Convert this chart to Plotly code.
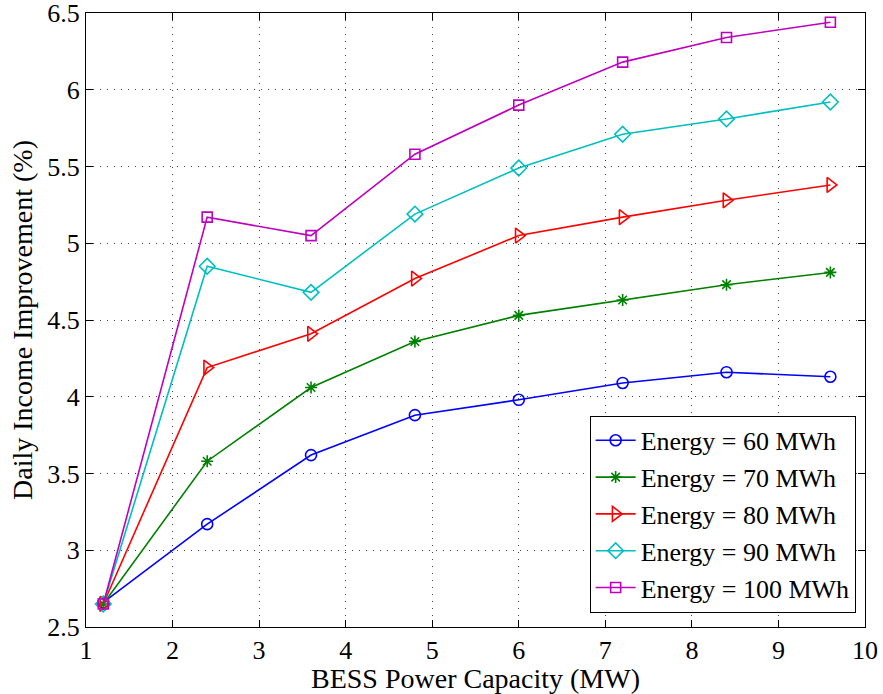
import plotly.graph_objects as go

# BESS power capacity (MW)
power_mw = [1.2, 2.4, 3.6, 4.8, 6.0, 7.2, 8.4, 9.6]

# Daily income improvement (%) for each energy capacity
energy_60 = [2.66, 3.17, 3.62, 3.88, 3.98, 4.09, 4.16, 4.13]
energy_70 = [2.65, 3.58, 4.06, 4.36, 4.53, 4.63, 4.73, 4.81]
energy_80 = [2.65, 4.19, 4.41, 4.77, 5.05, 5.17, 5.28, 5.38]
energy_90 = [2.65, 4.85, 4.68, 5.19, 5.49, 5.71, 5.81, 5.92]
energy_100 = [2.65, 5.17, 5.05, 5.58, 5.90, 6.18, 6.34, 6.44]

series_names = ["Energy = 60 MWh", "Energy = 70 MWh", "Energy = 80 MWh",
                "Energy = 90 MWh", "Energy = 100 MWh"]
series_values = [energy_60, energy_70, energy_80, energy_90, energy_100]
colors = ["#0000ff", "#008000", "#ff0000", "#00bfbf", "#bf00bf"]
symbols = ["circle-open", "asterisk-open", "triangle-right-open",
           "diamond-open", "square-open"]
sizes = [11, 10, 13, 12, 10]

FONT = "Times New Roman, Liberation Serif, serif"
TICK_FS = 26
TITLE_FS = 28
LEGEND_FS = 26

fig = go.Figure()
for name, vals, c, s, sz in zip(series_names, series_values, colors, symbols, sizes):
    fig.add_trace(go.Scatter(
        x=power_mw, y=vals, name=name, mode="lines+markers",
        line=dict(color=c, width=1.6),
        marker=dict(symbol=s, size=sz, color=c, line=dict(color=c, width=1.6)),
    ))

axis_common = dict(
    showline=True, linecolor="black", linewidth=1.2, mirror="ticks",
    ticks="inside", ticklen=7, tickcolor="black", tickwidth=1,
    showgrid=True, gridcolor="#444444", gridwidth=1, griddash="1px,6px",
    zeroline=False, automargin=False, ticklabeloverflow="allow",
    tickfont=dict(family=FONT, size=TICK_FS, color="black"),
)

fig.update_xaxes(range=[1, 10], dtick=1, tick0=1,
                 title=dict(text="BESS Power Capacity (MW)",
                            font=dict(family=FONT, size=TITLE_FS, color="black"),
                            standoff=2),
                 **axis_common)
fig.update_yaxes(range=[2.5, 6.5], dtick=0.5, tick0=2.5,
                 title=dict(text="Daily Income Improvement (%)",
                            font=dict(family=FONT, size=TITLE_FS, color="black"),
                            standoff=6),
                 **axis_common)

fig.update_layout(
    width=883, height=694,
    margin=dict(l=86, r=18, t=13, b=67),
    plot_bgcolor="white", paper_bgcolor="white",
    font=dict(family=FONT, size=TICK_FS, color="black"),
    legend=dict(x=0.988, y=0.023, xanchor="right", yanchor="bottom",
                bgcolor="white", bordercolor="black", borderwidth=1,
                font=dict(family=FONT, size=LEGEND_FS, color="black"),
                tracegroupgap=0, itemwidth=40),
    showlegend=True,
)

fig.write_html("out.html")
